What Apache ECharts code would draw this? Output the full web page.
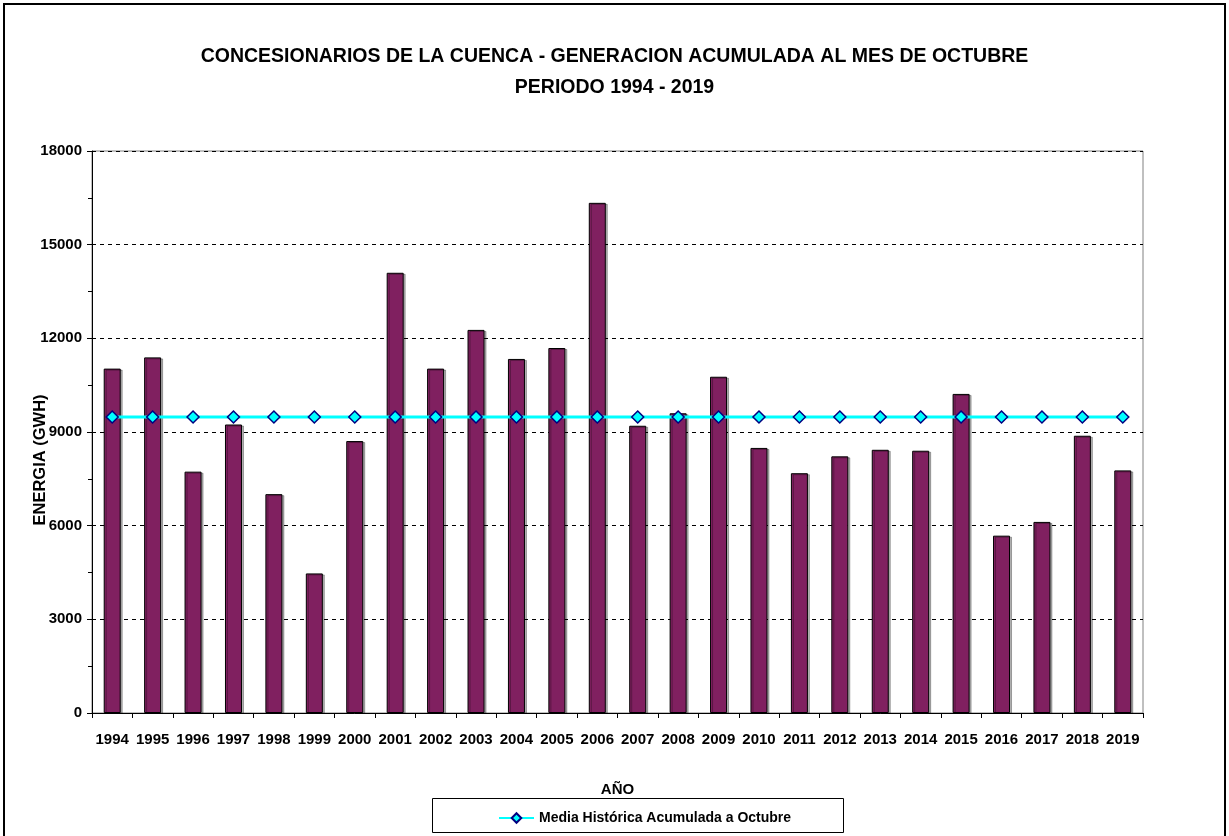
<!DOCTYPE html>
<html>
<head>
<meta charset="utf-8">
<title>Generación acumulada a octubre</title>
<script src="https://cdn.jsdelivr.net/npm/echarts@6/dist/echarts.min.js"></script>
<style>
  html, body { margin: 0; padding: 0; background: #fff; }
  #chart { width: 1229px; height: 836px; }
</style>
</head>
<body>
<div id="chart"></div>
<script>
const years = ['1994', '1995', '1996', '1997', '1998', '1999', '2000', '2001', '2002', '2003',
  '2004', '2005', '2006', '2007', '2008', '2009', '2010', '2011', '2012', '2013',
  '2014', '2015', '2016', '2017', '2018', '2019'];

// energia acumulada a octubre (GWh)
const energia = [11030, 11390, 7730, 9240, 7010, 4470, 8710, 14100, 11030, 12270,
  11340, 11690, 16340, 9200, 9600, 10770, 8490, 7680, 8220, 8430,
  8400, 10220, 5680, 6120, 8880, 7770];

// media historica (constante)
const media = [9480, 9480, 9480, 9480, 9480, 9480, 9480, 9480, 9480, 9480,
  9480, 9480, 9480, 9480, 9480, 9480, 9480, 9480, 9480, 9480,
  9480, 9480, 9480, 9480, 9480, 9480];

const yTicks = [0, 3000, 6000, 9000, 12000, 15000, 18000];

const font = 'Liberation Sans, Arial, sans-serif';
const chart = echarts.init(document.getElementById('chart'));

chart.setOption({
  animation: false,
  backgroundColor: '#fff',
  textStyle: { fontFamily: font },
  title: {
    text: 'CONCESIONARIOS DE LA CUENCA - GENERACION ACUMULADA AL MES DE OCTUBRE\nPERIODO 1994 - 2019',
    left: 'center',
    top: 36,
    textStyle: { fontSize: 19.5, fontWeight: 'bold', color: '#000', lineHeight: 31, fontFamily: font }
  },
  grid: {
    left: 92, right: 86, top: 151, bottom: 123,
    show: true, borderColor: '#808080', borderWidth: 1, backgroundColor: 'transparent'
  },
  legend: {
    data: ['Media Histórica Acumulada a Octubre'],
    left: 493, top: 806,
    itemWidth: 35, itemHeight: 12, itemGap: 5,
    textStyle: { fontSize: 14, fontWeight: 'bold', color: '#000', fontFamily: font }
  },
  xAxis: {
    type: 'category',
    data: years,
    name: 'AÑO',
    nameLocation: 'middle',
    nameGap: 69,
    nameTextStyle: { fontSize: 15, fontWeight: 'bold', color: '#000', fontFamily: font },
    axisLine: { lineStyle: { color: '#000', width: 1 } },
    axisTick: { show: true, alignWithLabel: false, length: 5, lineStyle: { color: '#000' } },
    axisLabel: { fontSize: 15, fontWeight: 'bold', color: '#000', margin: 19, interval: 0, fontFamily: font }
  },
  yAxis: {
    type: 'value',
    min: yTicks[0],
    max: yTicks[yTicks.length - 1],
    interval: 3000,
    axisLine: { show: true, lineStyle: { color: '#000', width: 1 } },
    axisTick: { show: true, length: 5, lineStyle: { color: '#000' } },
    minorTick: { show: true, splitNumber: 2, length: 4, lineStyle: { color: '#000' } },
    axisLabel: {
      fontSize: 15, fontWeight: 'bold', color: '#000', margin: 10, fontFamily: font,
      formatter: (v) => String(v)
    },
    splitLine: { show: true, lineStyle: { color: '#000', type: [4, 4], width: 1 } }
  },
  graphic: [
    {
      type: 'rect', silent: true, z: -10,
      shape: { x: 4, y: 4, width: 1221, height: 850 },
      style: { fill: 'none', stroke: '#000', lineWidth: 2 }
    },
    {
      type: 'rect', silent: true,
      shape: { x: 432.5, y: 798.5, width: 411, height: 34 },
      style: { fill: 'none', stroke: '#000', lineWidth: 1 }
    },
    {
      type: 'text', silent: true,
      x: 40, y: 460, rotation: Math.PI / 2,
      style: {
        text: 'ENERGIA (GWH)', fill: '#000',
        font: 'bold 16.5px ' + font,
        align: 'center', verticalAlign: 'middle'
      }
    }
  ],
  series: [
    {
      name: 'Energía',
      type: 'bar',
      data: energia,
      barWidth: 17,
      itemStyle: {
        color: '#802060', borderColor: '#000', borderWidth: 1,
        shadowColor: 'rgba(0,0,0,0.3)', shadowOffsetX: 2, shadowOffsetY: 1, shadowBlur: 0
      },
      z: 2
    },
    {
      name: 'Media Histórica Acumulada a Octubre',
      type: 'line',
      data: media,
      symbol: 'diamond',
      symbolSize: 12,
      lineStyle: { color: '#00FFFF', width: 3 },
      itemStyle: { color: '#00FFFF', borderColor: '#000080', borderWidth: 1.5 },
      z: 3
    }
  ]
});
</script>
</body>
</html>
